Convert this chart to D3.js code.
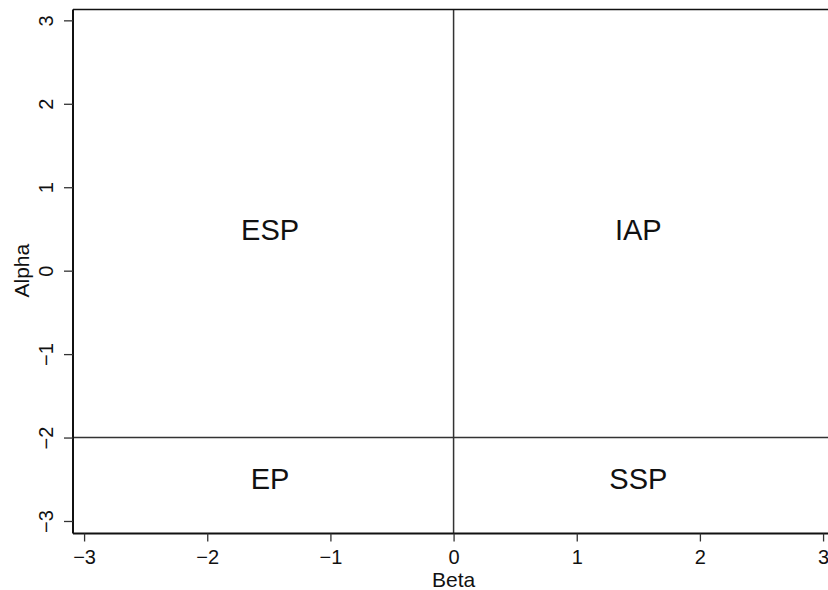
<!DOCTYPE html>
<html><head><meta charset="utf-8">
<script src="https://cdn.jsdelivr.net/npm/d3@7"></script>
<style>body{margin:0;background:#fff;} text{font-family:"Liberation Sans",Arial,sans-serif;}</style>
</head><body>
<svg id="c" width="828" height="590"></svg>
<script>
const xTicks = [-3,-2,-1,0,1,2,3];
const yTicks = [-3,-2,-1,0,1,2,3];
const xDomain = [-3.09, 3.04];
const yDomain = [-3.15, 3.13];
const vLineX = [0];
const hLineY = [-2];
const regionLabels = ["ESP","IAP","EP","SSP"];
const regionX = [-1.49, 1.5, -1.49, 1.5];
const regionY = [0.49, 0.49, -2.5, -2.5];
const xTitle = "Beta", yTitle = "Alpha";

const svg = d3.select("#c");
const L = 73, R = 828, T = 9.5, B = 533.5;
const x = d3.scaleLinear().domain(xDomain).range([L, R]);
const y = d3.scaleLinear().domain(yDomain).range([B, T]);
const fmt = d => d < 0 ? "\u2212" + Math.abs(d) : d;

// reference lines
svg.selectAll(".vl").data(vLineX).enter().append("line")
  .attr("x1", d=>x(d)).attr("x2", d=>x(d)).attr("y1", T).attr("y2", B)
  .attr("stroke", "#333").attr("stroke-width", 1.5);
svg.selectAll(".hl").data(hLineY).enter().append("line")
  .attr("x1", L).attr("x2", R).attr("y1", d=>y(d)).attr("y2", d=>y(d))
  .attr("stroke", "#333").attr("stroke-width", 1.5);

// top border
svg.append("line").attr("x1", L).attr("x2", R).attr("y1", T).attr("y2", T)
  .attr("stroke", "#111").attr("stroke-width", 1.6);

// axes
const xAxis = d3.axisBottom(x).tickValues(xTicks).tickSize(8).tickPadding(8).tickFormat(fmt);
const gx = svg.append("g").attr("transform", `translate(0,${B})`).call(xAxis);
gx.attr("font-size", null).attr("font-family", null);
gx.select(".domain").attr("d", `M${L},0H${R}`).attr("stroke", "#111").attr("stroke-width", 2);
gx.selectAll(".tick line").attr("stroke", "#333").attr("stroke-width", 1.3);
gx.selectAll(".tick text").style("font-size", "20px").attr("fill", "#111");

const yAxis = d3.axisLeft(y).tickValues(yTicks).tickSize(9).tickPadding(0).tickFormat(fmt);
const gy = svg.append("g").attr("transform", `translate(${L},0)`).call(yAxis);
gy.attr("font-size", null).attr("font-family", null);
gy.select(".domain").attr("d", `M0,${T}V${B}`).attr("stroke", "#111").attr("stroke-width", 2);
gy.selectAll(".tick line").attr("stroke", "#333").attr("stroke-width", 1.3);
gy.selectAll(".tick text").style("font-size", "20px").attr("fill", "#111")
  .attr("x", null)
  .attr("text-anchor", "middle")
  .attr("transform", "translate(-27.5,0) rotate(-90)")
  .attr("y", 0).attr("dy", "0.35em");

// titles
svg.append("text").attr("x", x(0)).attr("y", 587).attr("text-anchor", "middle")
  .style("font-size", "21px").attr("fill", "#111").text(xTitle);
svg.append("text").attr("transform", `translate(29,${y(0)}) rotate(-90)`)
  .attr("text-anchor", "middle").style("font-size", "21px").attr("fill", "#111").text(yTitle);

// region labels
svg.selectAll(".rl").data(regionLabels).enter().append("text")
  .attr("x", (d,i)=>x(regionX[i])).attr("y", (d,i)=>y(regionY[i]))
  .attr("dy", "0.35em").attr("text-anchor", "middle")
  .style("font-size", "29px").attr("fill", "#111").text(d=>d);
</script>
</body></html>
